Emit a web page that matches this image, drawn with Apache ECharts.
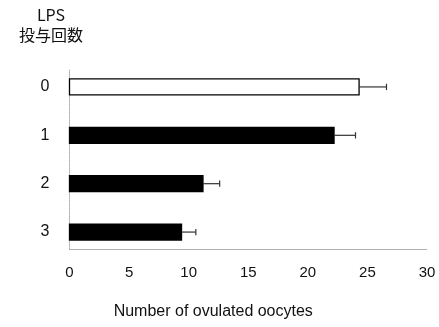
<!DOCTYPE html>
<html>
<head>
<meta charset="utf-8">
<script src="https://cdn.jsdelivr.net/npm/echarts@6/dist/echarts.min.js"></script>
<style>
  html, body { margin: 0; padding: 0; background: #fff; }
  #chart { width: 439px; height: 327px; }
</style>
</head>
<body>
<div id="chart"></div>
<script>
// Number of LPS administrations (rows, top to bottom)
const doses = ['0', '1', '2', '3'];
// Mean number of ovulated oocytes per group
const oocytes = [24.3, 22.2, 11.2, 9.4];
// Error (SEM) for each group
const errors = [2.3, 1.8, 1.4, 1.2];
// X axis tick values
const xTicks = [0, 5, 10, 15, 20, 25, 30];

const FONT = '"Liberation Sans", Arial, sans-serif';
const BAR_THICKNESS = 0.33;   // in row units
const CAP_THICKNESS = 0.13;   // error-bar cap height in row units

const barData = doses.map((d, i) => [i, oocytes[i]]);
const errData = doses.map((d, i) => [i, oocytes[i], errors[i]]);

function renderBar(params, api) {
  const row = api.value(0);
  const val = api.value(1);
  const p0 = api.coord([0, row]);
  const p1 = api.coord([val, row]);
  const h = api.size([0, BAR_THICKNESS])[1];
  const control = row === 0;
  return {
    type: 'rect',
    shape: { x: p0[0], y: p0[1] - h / 2, width: p1[0] - p0[0], height: h },
    style: { fill: control ? '#fff' : '#000', stroke: '#000', lineWidth: 1.3 }
  };
}

function renderErr(params, api) {
  const row = api.value(0);
  const val = api.value(1);
  const err = api.value(2);
  const a = api.coord([val, row]);
  const b = api.coord([val + err, row]);
  const c = api.size([0, CAP_THICKNESS])[1];
  const style = { stroke: '#333', lineWidth: 1.2 };
  return {
    type: 'group',
    children: [
      { type: 'line', shape: { x1: a[0], y1: a[1], x2: b[0], y2: b[1] }, style },
      { type: 'line', shape: { x1: b[0], y1: b[1] - c / 2, x2: b[0], y2: b[1] + c / 2 }, style }
    ]
  };
}

const chart = echarts.init(document.getElementById('chart'), null, { renderer: 'canvas' });
chart.setOption({
  backgroundColor: '#fff',
  animation: false,
  title: {
    text: 'LPS\n投与回数',
    left: 46,
    top: 0,
    textAlign: 'center',
    textStyle: {
      fontFamily: '"Noto Sans CJK JP", ' + FONT,
      fontSize: 16,
      fontWeight: 'normal',
      color: '#111',
      lineHeight: 20
    }
  },
  grid: { left: 69.5, right: 12, top: 70, bottom: 78 },
  xAxis: {
    type: 'value',
    min: xTicks[0],
    max: xTicks[xTicks.length - 1],
    interval: xTicks[1] - xTicks[0],
    axisLine: { show: true, onZero: false, lineStyle: { color: '#aaa', type: 'dotted', width: 1 } },
    axisTick: { show: false },
    splitLine: { show: false },
    axisLabel: { margin: 16, fontSize: 15, color: '#111', fontFamily: FONT },
    name: 'Number of ovulated oocytes',
    nameLocation: 'middle',
    nameGap: 55,
    nameTextStyle: { fontSize: 16, color: '#111', fontFamily: FONT, padding: [0, 70, 0, 0] }
  },
  yAxis: {
    type: 'value',
    inverse: true,
    min: -0.35,
    max: doses.length - 1 + 0.35,
    axisLine: { show: true, onZero: false, lineStyle: { color: '#aaa', type: 'dotted', width: 1 } },
    axisTick: { show: false },
    splitLine: { show: false },
    axisLabel: {
      customValues: doses.map((d, i) => i),
      formatter: v => doses[Math.round(v)] ?? '',
      margin: 20,
      fontSize: 16,
      color: '#111',
      fontFamily: FONT
    }
  },
  series: [
    {
      type: 'custom',
      renderItem: renderBar,
      data: barData,
      encode: { x: 1, y: 0 },
      z: 2
    },
    {
      type: 'custom',
      renderItem: renderErr,
      data: errData,
      encode: { x: [1, 2], y: 0 },
      z: 3
    }
  ]
});
</script>
</body>
</html>
